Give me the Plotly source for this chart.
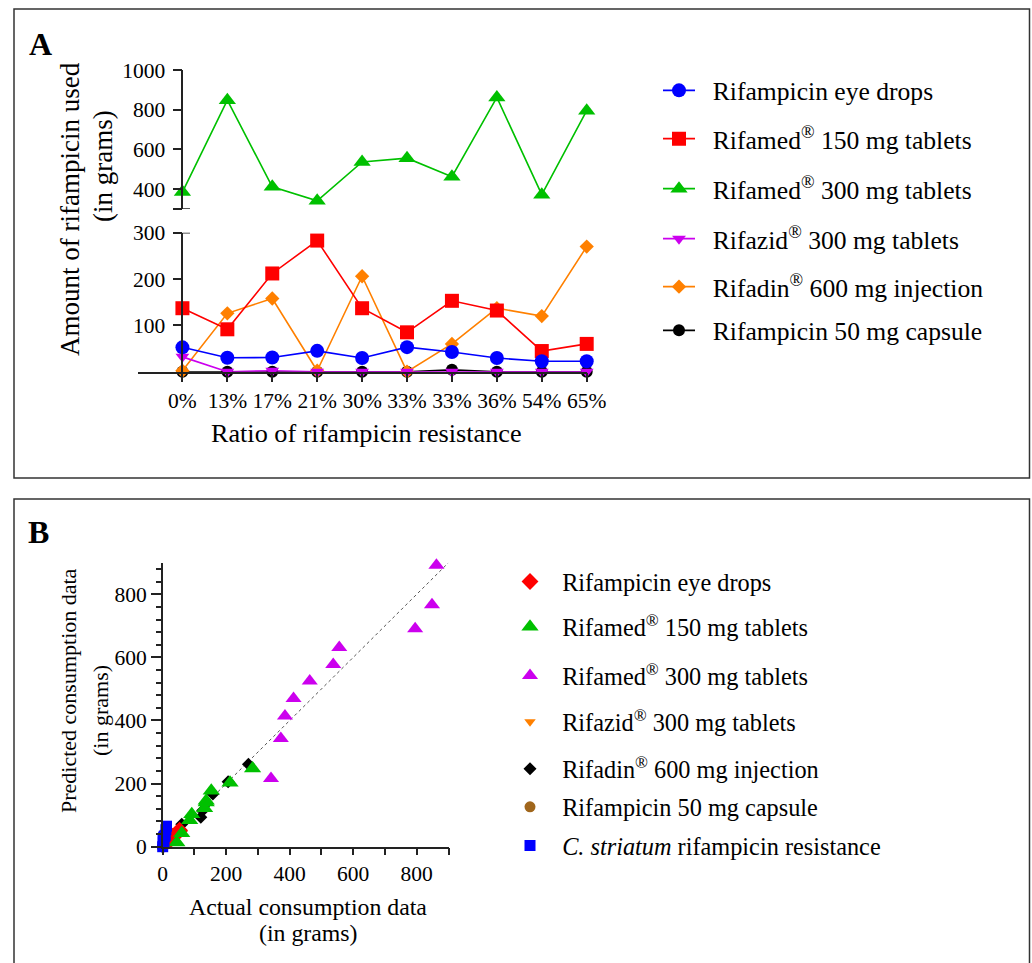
import plotly.graph_objects as go

W, H = 1032, 963
FONT = "Liberation Serif"


def px(x):
    return x / W


def py(y):
    return 1 - y / H


# ---------------- Panel A data ----------------
categories = ["0%", "13%", "17%", "21%", "30%", "33%", "33%", "36%", "54%", "65%"]
cat_pos = list(range(len(categories)))

a_eye_drops = [52.6, 30, 30.7, 45, 29.5, 53, 42.5, 29.5, 22.4, 22.4]
a_rifamed150 = [137, 91.5, 212, 283, 137, 85, 153, 132, 44.6, 60]
a_rifamed300 = [385, 848, 412, 341, 537, 556, 463, 862, 372, 795]
a_rifazid300 = [32, 0, 2, 0, 0, 0, 0, 0, 0, 0]
a_rifadin600 = [2, 126, 158, 2, 206, 0, 60, 137, 120, 270]
a_capsule50 = [0, 0, 0, 0, 0, 0, 4, 0, 0, 0]

# ---------------- Panel B data ----------------
b_eye_actual = [52.6, 30, 30.7, 45, 29.5, 53, 42.5, 29.5, 22.4, 22.4]
b_eye_pred = [50, 33, 30, 44, 28, 52, 40, 28, 24, 20]
b_r150_actual = [137, 91.5, 212, 283, 137, 85, 153, 132, 44.6, 60]
b_r150_pred = [140, 103, 203, 248, 146, 84, 177, 122, 13, 43]
b_r300_actual = [385, 848, 412, 341, 537, 556, 463, 862, 372, 795]
b_r300_pred = [414, 767, 470, 216, 577, 631, 525, 892, 343, 691]
b_rifazid_actual = [32, 0, 2, 0, 0, 0, 2, 0, 0, 0]
b_rifazid_pred = [30, 0, 2, 0, 0, 0, 2, 0, 0, 0]
b_rifadin_actual = [2, 126, 158, 0, 206, 0, 60, 137, 120, 270]
b_rifadin_pred = [0, 115, 167, 0, 206, 0, 71, 137, 93, 261]
b_capsule_actual = [0, 0, 0, 0, 0, 0, 4, 0, 0, 0]
b_capsule_pred = [0, 0, 0, 0, 0, 0, 3, 0, 0, 0]
b_cstriatum_actual = [0, 2, 4, 1, 3, 5, 6, 8, 10, 12]
b_cstriatum_pred = [0, 13, 17, 21, 30, 33, 33, 36, 54, 65]
identity_line = [0, 900]

BLUE = "#0000FF"
RED = "#FF0000"
GREEN = "#00C000"
MAGENTA = "#CC00EE"
ORANGE = "#FF8000"
BLACK = "#000000"
BROWN = "#A0661C"

R = "<sup>®</sup>"
SP = "\u00a0\u00a0"
names_a = [
    "Rifampicin eye drops",
    f"Rifamed{R} 150 mg tablets",
    f"Rifamed{R} 300 mg tablets",
    f"Rifazid{R} 300 mg tablets",
    f"Rifadin{R} 600 mg injection",
    "Rifampicin 50 mg capsule",
]
names_b = [
    "Rifampicin eye drops",
    f"Rifamed{R} 150 mg tablets",
    f"Rifamed{R} 300 mg tablets",
    f"Rifazid{R} 300 mg tablets",
    f"Rifadin{R} 600 mg injection",
    "Rifampicin 50 mg capsule",
    "<i>C. striatum</i> rifampicin resistance",
]

fig = go.Figure()


def line_trace(y, color, symbol, size, name, legend, yaxis="y"):
    return go.Scatter(
        x=cat_pos, y=y, mode="lines+markers", name=SP + name,
        line=dict(color=color, width=1.6),
        marker=dict(color=color, symbol=symbol, size=size, line=dict(width=0)),
        xaxis="x", yaxis=yaxis, legend=legend, cliponaxis=False,
    )


# draw order: last in legend drawn first
fig.add_trace(line_trace(a_capsule50, BLACK, "circle", 12, names_a[5], "legend6"))
fig.add_trace(line_trace(a_rifadin600, ORANGE, "diamond", 11, names_a[4], "legend5"))
fig.add_trace(line_trace(a_rifazid300, MAGENTA, "triangle-down", 12, names_a[3], "legend4"))
fig.add_trace(line_trace(a_rifamed300, GREEN, "triangle-up", 15, names_a[2], "legend3", yaxis="y2"))
fig.add_trace(line_trace(a_rifamed150, RED, "square", 14, names_a[1], "legend2"))
fig.add_trace(line_trace(a_eye_drops, BLUE, "circle", 14, names_a[0], "legend"))

# Panel B
fig.add_trace(go.Scatter(
    x=identity_line, y=identity_line, mode="lines",
    line=dict(color="#555555", width=1, dash="dot"),
    xaxis="x2", yaxis="y3", showlegend=False, hoverinfo="skip",
))


def pt_trace(x, y, color, symbol, size, name, legend):
    return go.Scatter(
        x=x, y=y, mode="markers", name=SP + name,
        marker=dict(color=color, symbol=symbol, size=size, line=dict(width=0)),
        xaxis="x2", yaxis="y3", legend=legend, cliponaxis=False,
    )


fig.add_trace(pt_trace(b_capsule_actual, b_capsule_pred, BROWN, "circle", 11, names_b[5], "legend12"))
fig.add_trace(pt_trace(b_rifazid_actual, b_rifazid_pred, ORANGE, "triangle-down", 10, names_b[3], "legend10"))
fig.add_trace(pt_trace(b_rifadin_actual, b_rifadin_pred, BLACK, "diamond", 10, names_b[4], "legend11"))
fig.add_trace(pt_trace(b_r300_actual, b_r300_pred, MAGENTA, "triangle-up", 14, names_b[2], "legend9"))
fig.add_trace(pt_trace(b_eye_actual, b_eye_pred, RED, "diamond", 13, names_b[0], "legend7"))
fig.add_trace(pt_trace(b_r150_actual, b_r150_pred, GREEN, "triangle-up", 15, names_b[1], "legend8"))
fig.add_trace(pt_trace(b_cstriatum_actual, b_cstriatum_pred, BLUE, "square", 11, names_b[6], "legend13"))

AX = "#222222"
tickfont = dict(family=FONT, size=21.5, color="black")

layout = dict(
    width=W, height=H,
    margin=dict(l=0, r=0, t=0, b=0, pad=0, autoexpand=False),
    paper_bgcolor="white", plot_bgcolor="rgba(0,0,0,0)",
    font=dict(family=FONT, color="black"),
    xaxis=dict(
        domain=[px(137.5), px(586.7)], range=[-1, 9], anchor="y",
        tickmode="array", tickvals=cat_pos, ticktext=categories,
        showline=True, linecolor=AX, linewidth=1.5,
        ticks="outside", ticklen=9, tickwidth=1.5, tickcolor=AX,
        showgrid=False, zeroline=False, tickfont=tickfont, automargin=False,
    ),
    yaxis=dict(
        domain=[py(371.7), py(232.7)], range=[0, 300], anchor="free", position=px(182.4),
        tickmode="array", tickvals=[100, 200, 300],
        showline=True, linecolor=AX, linewidth=1.5,
        ticks="outside", ticklen=9, tickwidth=1.5, tickcolor=AX, ticklabelstandoff=3,
        showgrid=False, zeroline=False, tickfont=tickfont, automargin=False,
    ),
    yaxis2=dict(
        domain=[py(209), py(70)], range=[300, 1000], anchor="free", position=px(182.4),
        tickmode="array", tickvals=[300, 400, 600, 800, 1000],
        ticktext=["", "400", "600", "800", "1000"],
        showline=True, linecolor=AX, linewidth=1.5,
        ticks="outside", ticklen=9, tickwidth=1.5, tickcolor=AX, ticklabelstandoff=3,
        showgrid=False, zeroline=False, tickfont=tickfont, automargin=False,
    ),
    xaxis2=dict(
        domain=[px(162.7), px(448.5)], range=[0, 900], anchor="y3",
        tickmode="linear", tick0=0, dtick=200,
        minor=dict(dtick=100, ticklen=7, tickwidth=1.5, tickcolor=AX, ticks="outside"),
        showline=True, linecolor=AX, linewidth=1.5,
        ticks="outside", ticklen=7, tickwidth=1.5, tickcolor=AX,
        showgrid=False, zeroline=False, tickfont=tickfont, automargin=False,
    ),
    yaxis3=dict(
        domain=[py(846.7), py(562.7)], range=[0, 900], anchor="x2",
        tickmode="linear", tick0=0, dtick=200,
        minor=dict(dtick=40, ticklen=5, tickwidth=1.5, tickcolor=AX, ticks="outside"),
        showline=True, linecolor=AX, linewidth=1.5,
        ticks="outside", ticklen=10, tickwidth=1.5, tickcolor=AX,
        showgrid=False, zeroline=False, tickfont=tickfont, automargin=False,
    ),
)


def legend_at(xl, yc, size, itemwidth):
    return dict(
        x=px(xl), y=py(yc), xanchor="left", yanchor="middle",
        bgcolor="rgba(0,0,0,0)", borderwidth=0,
        font=dict(family=FONT, size=size, color="black"),
        itemwidth=itemwidth, itemclick=False, itemdoubleclick=False,
    )


legend_a_rows = [91.7, 140, 190, 240, 288, 331.7]
legend_b_rows = [582.7, 628, 676.7, 723, 770, 808, 846.7]
for i, yc in enumerate(legend_a_rows):
    key = "legend" if i == 0 else f"legend{i + 1}"
    layout[key] = legend_at(658, yc - 1, 25.6, 32)
for i, yc in enumerate(legend_b_rows):
    layout[f"legend{i + 7}"] = legend_at(510, yc - 1, 24.3, 30)

fig.update_layout(**layout)

# panel frames
shapes = [
    dict(type="rect", xref="paper", yref="paper", x0=px(14), x1=px(1029.5), y0=py(478), y1=py(9),
         line=dict(color="#333333", width=1.5)),
    dict(type="rect", xref="paper", yref="paper", x0=px(14), x1=px(1029.5), y0=py(990), y1=py(499),
         line=dict(color="#333333", width=1.5)),
    # axis-break marks
    dict(type="line", xref="paper", yref="y2", x0=px(176), x1=px(190), y0=300, y1=300,
         line=dict(color=AX, width=1.5)),
    dict(type="line", xref="paper", yref="y", x0=px(182.4), x1=px(190), y0=300, y1=300,
         line=dict(color=AX, width=1.5)),
]
fig.update_layout(shapes=shapes)


def text_at(text, x, y, size, angle=0, bold=False):
    return dict(
        text=f"<b>{text}</b>" if bold else text, x=px(x), y=py(y),
        xref="paper", yref="paper", xanchor="center", yanchor="middle",
        showarrow=False, textangle=angle,
        font=dict(family=FONT, size=size, color="black"),
    )


ann = [
    text_at("A", 40, 44, 32, bold=True),
    text_at("B", 38, 532, 32, bold=True),
    text_at("Ratio of rifampicin resistance", 366, 433, 26.2),
    text_at("Amount of rifampicin used", 70, 209, 27, angle=-90),
    text_at("(in grams)", 103, 166, 27, angle=-90),
    text_at("Actual consumption data", 307.7, 907, 23.8),
    text_at("(in grams)", 307.7, 933, 23.8),
    text_at("Predicted consumption data", 68, 691, 22, angle=-90),
    text_at("(in grams)", 100, 711, 22, angle=-90),
]
fig.update_layout(annotations=ann)

fig.write_html(
    "out.html",
    config={"displayModeBar": False},
    post_script="document.body.style.margin='0px';document.body.style.padding='0px';"
                "document.documentElement.style.overflow='hidden';",
)
